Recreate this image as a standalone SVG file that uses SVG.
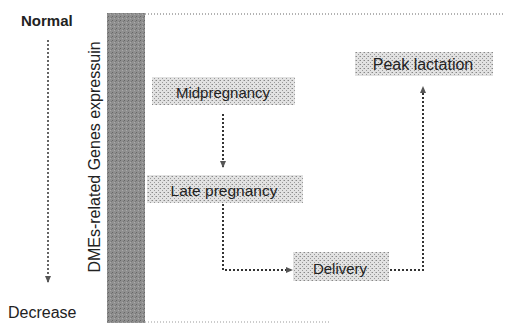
<svg xmlns="http://www.w3.org/2000/svg" width="505" height="324" viewBox="0 0 505 324">
<defs>
<pattern id="dots" width="4" height="4" patternUnits="userSpaceOnUse">
<rect width="4" height="4" fill="#e2e2e2"/>
<rect x="0" y="0" width="1" height="1" fill="#888"/>
<rect x="2" y="2" width="1" height="1" fill="#999"/>
<rect x="3" y="0" width="1" height="1" fill="#bbb"/>
</pattern>
<pattern id="bar" width="4" height="4" patternUnits="userSpaceOnUse">
<rect width="4" height="4" fill="#8f8f8f"/>
<rect x="0" y="0" width="1" height="1" fill="#666"/>
<rect x="2" y="2" width="1" height="1" fill="#aaa"/>
<rect x="3" y="1" width="1" height="1" fill="#777"/>
</pattern>
<marker id="ah" markerWidth="8" markerHeight="8" refX="6" refY="4" orient="auto" markerUnits="userSpaceOnUse">
<path d="M0,1 L7,4 L0,7 Z" fill="#555"/>
</marker>
</defs>
<style>
text{font-family:"Liberation Sans",Arial,sans-serif;fill:#222}
.lbl{font-size:15px}
.node{font-size:15px;text-anchor:middle}
.box{fill:url(#dots);stroke:none}
.conn{fill:none;stroke:#333;stroke-width:2;stroke-dasharray:2 2}
</style>
<g id="axis">
<text class="lbl" x="21" y="26" font-weight="bold" fill="#333">Normal</text>
<text class="lbl" x="8" y="318" style="font-size:16px">Decrease</text>
<line class="conn" x1="48" y1="40" x2="48" y2="282" marker-end="url(#ah)" style="stroke-width:1.5"/>
<text class="lbl" transform="translate(100,157) rotate(-90)" text-anchor="middle" style="font-size:16px">DMEs-related Genes expressuin</text>
</g>
<g id="bar-group">
<rect x="107" y="13" width="38" height="310" fill="url(#bar)"/>
<line x1="145" y1="14" x2="505" y2="14" stroke="#666" stroke-width="1" stroke-dasharray="1 2"/>
<line x1="145" y1="322" x2="330" y2="322" stroke="#999" stroke-width="1" stroke-dasharray="1 2"/>
</g>
<g id="connectors">
<line class="conn" x1="223" y1="114" x2="223" y2="167" marker-end="url(#ah)"/>
<polyline class="conn" points="223,204 223,270 292,270" marker-end="url(#ah)"/>
<polyline class="conn" points="390,270 423,270 423,87" marker-end="url(#ah)"/>
</g>
<g id="midpregnancy">
<rect class="box" x="152" y="77" width="143" height="28"/>
<text class="node" x="223" y="98">Midpregnancy</text>
</g>
<g id="late-pregnancy">
<rect class="box" x="147" y="175" width="156" height="28"/>
<text class="node" x="224" y="196" style="font-size:15.5px">Late pregnancy</text>
</g>
<g id="delivery">
<rect class="box" x="293" y="252" width="96" height="29"/>
<text class="node" x="340" y="274">Delivery</text>
</g>
<g id="peak-lactation">
<rect class="box" x="355" y="52" width="138" height="24"/>
<text class="node" x="423" y="70" style="font-size:16px">Peak lactation</text>
</g>
</svg>
